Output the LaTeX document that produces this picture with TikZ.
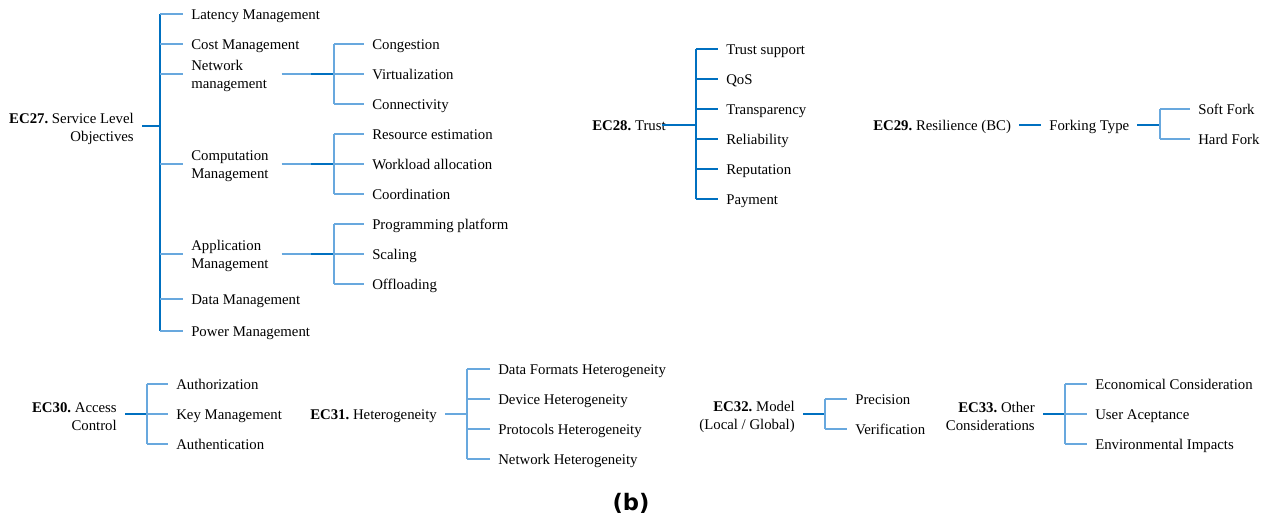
\documentclass[tikz,border=0pt]{standalone}
\usepackage{fontspec}
\setmainfont{Liberation Serif}
\newfontfamily\capfont{DejaVu Sans}
\definecolor{bluedk}{RGB}{0,112,192}
\definecolor{bluelt}{RGB}{104,168,222}
\frenchspacing
\tikzset{
    lbl/.style={font=\fontsize{11.1}{13.8}\selectfont, inner xsep=6pt, inner ysep=0pt},
    leaf/.style={lbl, anchor=west, text height=9.8pt, text depth=2pt},
    root/.style={lbl, anchor=east, align=right, yshift=-2pt},
    mid/.style={lbl, anchor=west, align=left, text width=61.5pt, yshift=-1.5pt},
    dk/.style={draw=bluedk, line width=1.3pt},
    lt/.style={draw=bluelt, line width=1pt}
}
\begin{document}
\begin{tikzpicture}[x=0.75pt, y=-0.75pt]
        \useasboundingbox (0,0) rectangle (1271,522);
        % EC27
        \node[root] (r27) at (142,126) {\textbf{EC27.} Service Level\\Objectives};
        \coordinate (j27) at (160,126);
        \foreach \n/\y/\t in {lat/14/Latency Management, cost/44/Cost Management, data/299/Data Management, pow/331/Power Management}
            \node[leaf] (\n) at (183,\y) {\t};
        \node[mid] (net) at (183,74) {Network\\management};
        \node[mid] (comp) at (183,164) {Computation\\Management};
        \node[mid] (app) at (183,254) {Application\\Management};
        \coordinate (jnet) at (334,74);
        \coordinate (jcomp) at (334,164);
        \coordinate (japp) at (334,254);
        \draw[dk] (r27.east |- j27) -- (j27);
        \draw[dk] (j27 |- lat.west) -- (j27 |- pow.west);
        \foreach \n in {lat,cost,data,pow}
            \draw[lt] (j27 |- \n.west) -- (\n.west);
        \foreach \n in {net,comp,app}
            \draw[lt] (j27 |- j\n) -- (\n.west |- j\n);
        \foreach \n/\y/\t in {cong/44/Congestion, virt/74/Virtualization, conn/104/Connectivity, res/134/Resource estimation, work/164/Workload allocation, coord/194/Coordination, prog/224/Programming platform, scal/254/Scaling, off/284/Offloading}
            \node[leaf] (\n) at (364,\y) {\t};
        \foreach \p/\a/\b/\c in {net/cong/virt/conn, comp/res/work/coord, app/prog/scal/off}
        {
            \draw[lt] (\p.east |- j\p) -- (j\p);
            \draw[dk] ([xshift=-17pt]j\p) -- (j\p);
            \draw[lt] (j\p |- \a.west) -- (j\p |- \c.west);
            \foreach \q in {\a,\b,\c}
                \draw[lt] (j\p |- \q.west) -- (\q.west);
        }
        % EC28
        \node[leaf, inner xsep=0pt] (r28) at (592,125) {\textbf{EC28.} Trust};
        \coordinate (j28) at (696,125);
        \foreach \n/\y/\t in {tsup/49/Trust support, qos/79/QoS, transp/109/Transparency, rel/139/Reliability, rep/169/Reputation, pay/199/Payment}
            \node[leaf] (\n) at (718,\y) {\t};
        \draw[dk, line width=.9pt] ([xshift=-3pt]r28.east) -- (j28);
        \draw[dk, line width=.9pt] (j28 |- tsup.west) -- (j28 |- pay.west);
        \foreach \n in {tsup,qos,transp,rel,rep,pay}
            \draw[dk, line width=.9pt] (j28 |- \n.west) -- (\n.west);
        % EC29
        \node[leaf] (r29) at (865,125) {\textbf{EC29.} Resilience (BC)};
        \node[leaf] (fork) at (1041,125) {Forking Type};
        \coordinate (j29) at (1160,125);
        \node[leaf] (soft) at (1190,109) {Soft Fork};
        \node[leaf] (hard) at (1190,139) {Hard Fork};
        \draw[dk, line width=.8pt] (r29) -- (fork);
        \draw[dk, line width=1.8pt] (fork) -- (j29);
        \draw[lt] (j29 |- soft.west) -- (j29 |- hard.west);
        \foreach \n in {soft,hard}
            \draw[lt] (j29 |- \n.west) -- (\n.west);
        % EC30
        \node[root] (r30) at (125,414) {\textbf{EC30.} Access\\Control};
        \coordinate (j30) at (147,414);
        \foreach \n/\y/\t in {autz/384/Authorization, key/414/Key Management, autn/444/Authentication}
            \node[leaf] (\n) at (168,\y) {\t};
        \draw[dk, line width=1.8pt] (r30.east |- j30) -- (j30);
        \draw[lt] (j30 |- autz.west) -- (j30 |- autn.west);
        \foreach \n in {autz,key,autn}
            \draw[lt] (j30 |- \n.west) -- (\n.west);
        % EC31
        \node[leaf] (r31) at (302,414) {\textbf{EC31.} Heterogeneity};
        \coordinate (j31) at (467,414);
        \foreach \n/\y/\t in {dfh/369/Data Formats Heterogeneity, dvh/399/Device Heterogeneity, prh/429/Protocols Heterogeneity, nwh/459/Network Heterogeneity}
            \node[leaf] (\n) at (490,\y) {\t};
        \draw[lt] (r31) -- (j31);
        \draw[lt] (j31 |- dfh.west) -- (j31 |- nwh.west);
        \foreach \n in {dfh,dvh,prh,nwh}
            \draw[lt] (j31 |- \n.west) -- (\n.west);
        % EC32
        \node[root] (r32) at (803,414) {\textbf{EC32.} Model\\(Local / Global)};
        \coordinate (j32) at (825,414);
        \node[leaf] (prec) at (847,399) {Precision};
        \node[leaf] (verif) at (847,429) {Verification};
        \draw[dk, line width=1.8pt] (r32.east |- j32) -- (j32);
        \draw[lt] (j32 |- prec.west) -- (j32 |- verif.west);
        \foreach \n in {prec,verif}
            \draw[lt] (j32 |- \n.west) -- (\n.west);
        % EC33
        \node[root] (r33) at (1043,414) {\textbf{EC33.} Other\\Considerations};
        \coordinate (j33) at (1065,414);
        \foreach \n/\y/\t in {econ/384/Economical Consideration, user/414/User Aceptance, env/444/Environmental Impacts}
            \node[leaf] (\n) at (1087,\y) {\t};
        \draw[dk, line width=1.8pt] (r33.east |- j33) -- (j33);
        \draw[lt] (j33 |- econ.west) -- (j33 |- env.west);
        \foreach \n in {econ,user,env}
            \draw[lt] (j33 |- \n.west) -- (\n.west);
        \node[font=\capfont\bfseries\fontsize{17}{20}\selectfont] (cap) at (631,503) {(b)};
\end{tikzpicture}
\end{document}
